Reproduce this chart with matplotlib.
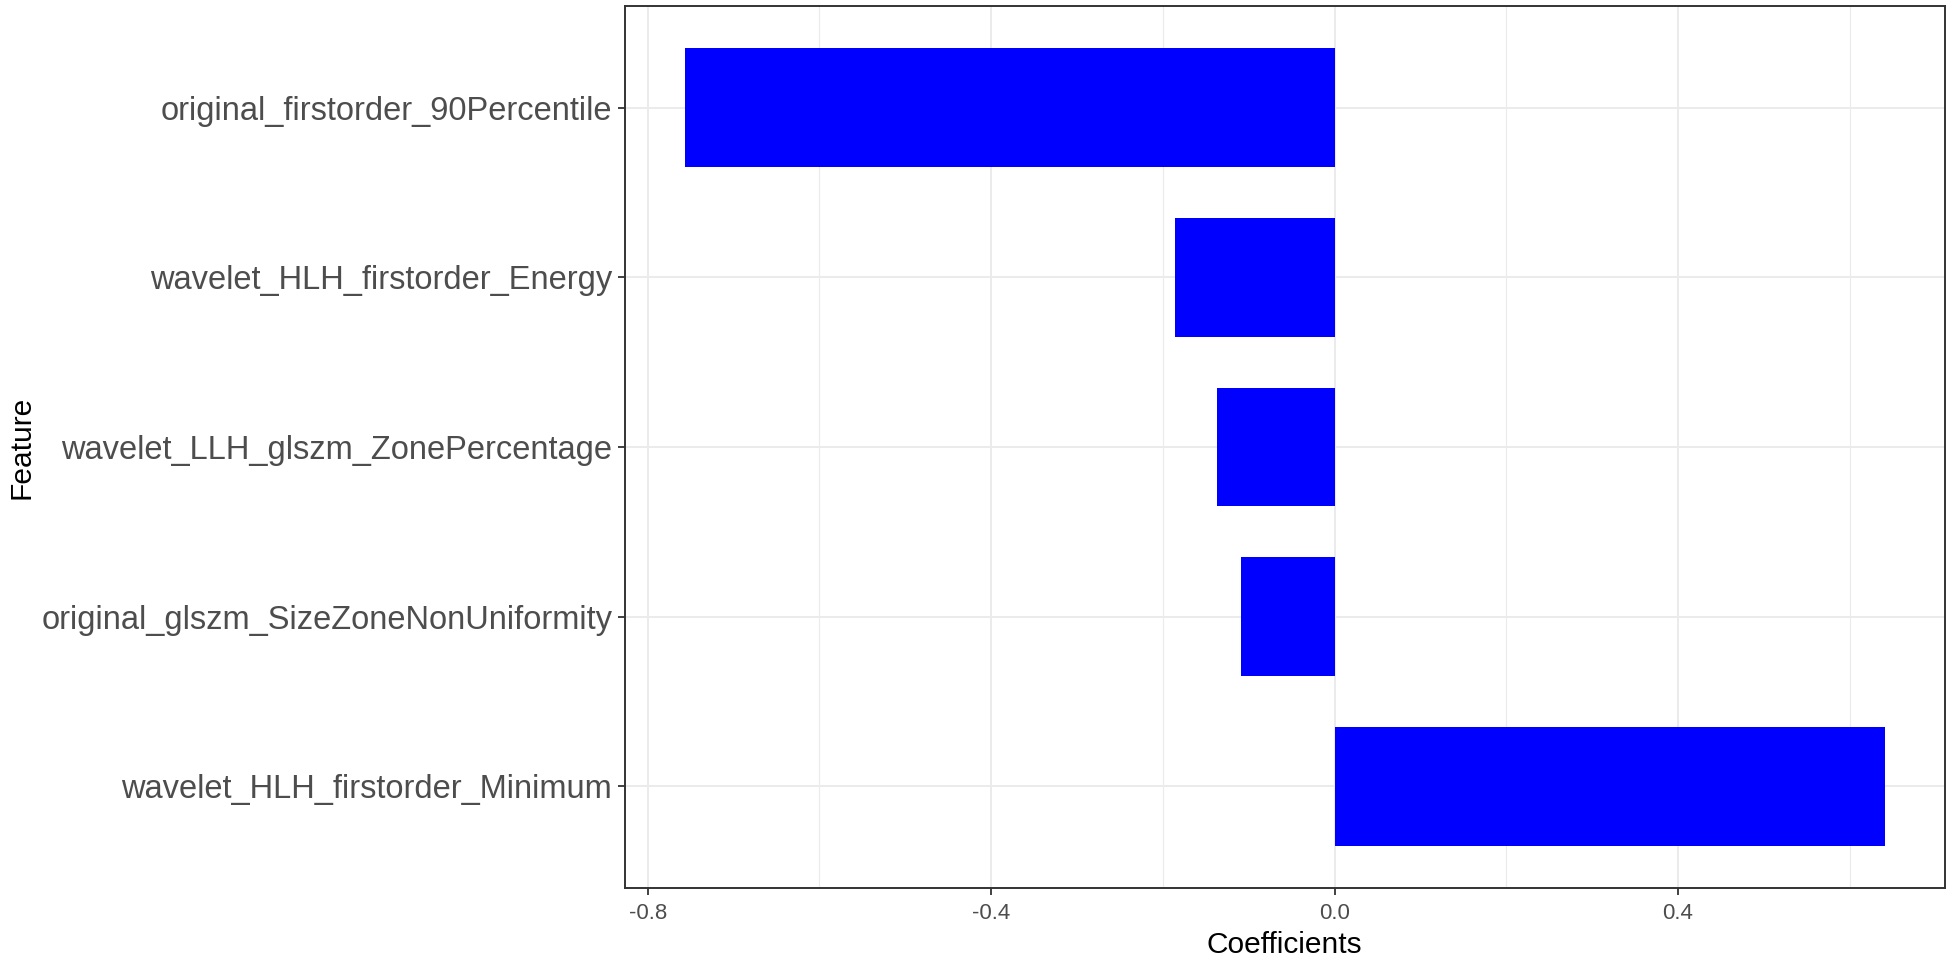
import matplotlib
matplotlib.use("Agg")
import matplotlib.pyplot as plt
from matplotlib.ticker import MultipleLocator

# Feature coefficients (bottom to top order in the plot)
features = [
    "wavelet_HLH_firstorder_Minimum",
    "original_glszm_SizeZoneNonUniformity",
    "wavelet_LLH_glszm_ZonePercentage",
    "wavelet_HLH_firstorder_Energy",
    "original_firstorder_90Percentile",
]
coefficients = [0.641, -0.109, -0.137, -0.186, -0.757]

plt.rcParams['font.family'] = ['Liberation Sans', 'DejaVu Sans']

fig = plt.figure(figsize=(19.52, 9.56), dpi=100)
ax = fig.add_axes([0.320, 0.0711, 0.6764, 0.9226])

y_pos = range(1, len(features) + 1)
ax.barh(list(y_pos), coefficients, height=0.7, color='#0000FF', zorder=3)

# ggplot-style limits with 5% padding
lo, hi = min(coefficients), max(coefficients)
pad = (hi - lo) * 0.05
ax.set_xlim(lo - pad, hi + pad)
ax.set_ylim(0.4, len(features) + 0.6)

ax.set_yticks(list(y_pos))
ax.set_yticklabels(features)
ax.xaxis.set_major_locator(MultipleLocator(0.4))
ax.xaxis.set_minor_locator(MultipleLocator(0.2))
ax.xaxis.set_major_formatter(matplotlib.ticker.FormatStrFormatter('%.1f'))

# grid like theme_bw
ax.grid(True, which='major', color='#EBEBEB', linewidth=1.4, zorder=0)
ax.grid(True, which='minor', axis='x', color='#EBEBEB', linewidth=0.8, zorder=0)
ax.set_axisbelow(True)

for s in ax.spines.values():
    s.set_color('#333333')
    s.set_linewidth(1.4)

ax.tick_params(axis='both', which='major', direction='out', length=5,
               width=1.3, color='#333333', labelcolor='#4D4D4D')
ax.tick_params(axis='x', which='major', labelsize=16, pad=6)
ax.tick_params(axis='y', which='major', labelsize=23.5, pad=4)
ax.tick_params(which='minor', length=0)

ax.set_xlabel('Coefficients', fontsize=21.5, color='black', labelpad=5)
ax.set_ylabel('Feature', fontsize=21.5, color='black', labelpad=4)

fig.savefig('out.png', dpi=100, facecolor='white')
